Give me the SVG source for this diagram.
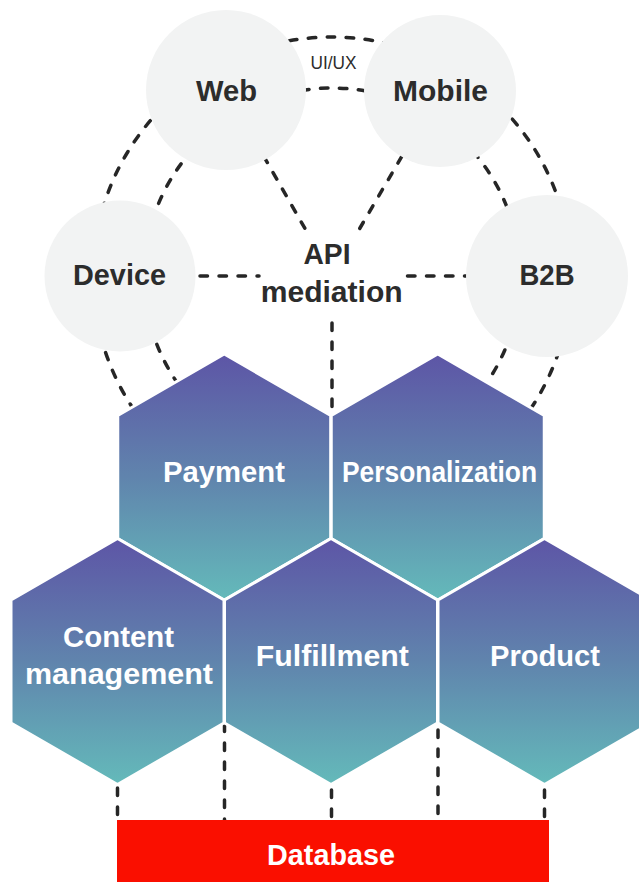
<svg xmlns="http://www.w3.org/2000/svg" width="639" height="882" viewBox="0 0 639 882">
  <defs>
    <linearGradient id="hexGrad" x1="0" y1="0" x2="0" y2="1">
      <stop offset="0" stop-color="#5d55a6"/>
      <stop offset="0.5" stop-color="#6084ad"/>
      <stop offset="1" stop-color="#64baba"/>
    </linearGradient>
    <path id="hex" d="M0,-123 L106.5,-61.5 L106.5,61.5 L0,123 L-106.5,61.5 L-106.5,-61.5 Z"/>
  </defs>
  <style>
    .dash { fill: none; stroke: #262626; stroke-width: 3.5; stroke-dasharray: 7.5 11.5; stroke-linecap: round; }
    .circ { fill: #f2f3f3; }
    .dark { fill: #2c2c2c; font-family: "Liberation Sans", Arial, sans-serif; font-weight: bold; font-size: 29px; text-anchor: middle; }
    .white { fill: #ffffff; font-family: "Liberation Sans", Arial, sans-serif; font-weight: bold; font-size: 29px; text-anchor: middle; }
    .small { fill: #2c2c2c; font-family: "Liberation Sans", Arial, sans-serif; font-size: 17.5px; text-anchor: middle; }
    .hexshape { fill: url(#hexGrad); stroke: #ffffff; stroke-width: 3; }
  </style>

  <g id="connectors">
    <circle class="dash" cx="332" cy="276" r="239"/>
    <circle class="dash" cx="332" cy="276" r="188"/>
    <line class="dash" x1="226" y1="90" x2="304.8" y2="228.2"/>
    <line class="dash" x1="440" y1="91" x2="359.7" y2="228.5"/>
    <line class="dash" x1="200" y1="276" x2="259" y2="276"/>
    <line class="dash" x1="407.5" y1="276" x2="466" y2="276"/>
    <line class="dash" x1="332" y1="323" x2="332" y2="418"/>
    <line class="dash" x1="117.5" y1="788" x2="117.5" y2="822"/>
    <line class="dash" x1="224.5" y1="724" x2="224.5" y2="822"/>
    <line class="dash" x1="331.5" y1="790" x2="331.5" y2="822"/>
    <line class="dash" x1="438" y1="730" x2="438" y2="822"/>
    <line class="dash" x1="544.5" y1="790" x2="544.5" y2="822"/>
    <text class="small" x="333.5" y="69" textLength="46" lengthAdjust="spacingAndGlyphs">UI/UX</text>
  </g>

  <g id="web">
    <circle class="circ" cx="226" cy="90" r="80"/>
    <text class="dark" x="226.5" y="100.5" textLength="61" lengthAdjust="spacingAndGlyphs">Web</text>
  </g>
  <g id="mobile">
    <circle class="circ" cx="440" cy="91" r="76"/>
    <text class="dark" x="440.5" y="100.5" textLength="95" lengthAdjust="spacingAndGlyphs">Mobile</text>
  </g>
  <g id="device">
    <circle class="circ" cx="120" cy="276" r="75.5"/>
    <text class="dark" x="119.5" y="285" textLength="93" lengthAdjust="spacingAndGlyphs">Device</text>
  </g>
  <g id="b2b">
    <circle class="circ" cx="547" cy="276" r="81"/>
    <text class="dark" x="547" y="285" textLength="55" lengthAdjust="spacingAndGlyphs">B2B</text>
  </g>
  <g id="api-mediation">
    <text class="dark" x="327" y="264.3" textLength="47" lengthAdjust="spacingAndGlyphs">API</text>
    <text class="dark" x="331.7" y="301.7" textLength="142" lengthAdjust="spacingAndGlyphs">mediation</text>
  </g>

  <g id="payment">
    <use href="#hex" class="hexshape" transform="translate(224.25,477)"/>
    <text class="white" x="224" y="482" textLength="122" lengthAdjust="spacingAndGlyphs">Payment</text>
  </g>
  <g id="personalization">
    <use href="#hex" class="hexshape" transform="translate(437.75,477)"/>
    <text class="white" x="439.5" y="482" textLength="195" lengthAdjust="spacingAndGlyphs">Personalization</text>
  </g>
  <g id="content-management">
    <use href="#hex" class="hexshape" transform="translate(117.5,661.5)"/>
    <text class="white" x="118.5" y="647" textLength="111" lengthAdjust="spacingAndGlyphs">Content</text>
    <text class="white" x="119" y="684" textLength="188" lengthAdjust="spacingAndGlyphs">management</text>
  </g>
  <g id="fulfillment">
    <use href="#hex" class="hexshape" transform="translate(331,661.5)"/>
    <text class="white" x="332.3" y="666" textLength="153" lengthAdjust="spacingAndGlyphs">Fulfillment</text>
  </g>
  <g id="product">
    <use href="#hex" class="hexshape" transform="translate(544.5,661.5)"/>
    <text class="white" x="545" y="666" textLength="110" lengthAdjust="spacingAndGlyphs">Product</text>
  </g>

  <g id="database">
    <rect x="117" y="820" width="432" height="62" fill="#fa0f00"/>
    <text class="white" x="331" y="865" textLength="128" lengthAdjust="spacingAndGlyphs">Database</text>
  </g>
</svg>
